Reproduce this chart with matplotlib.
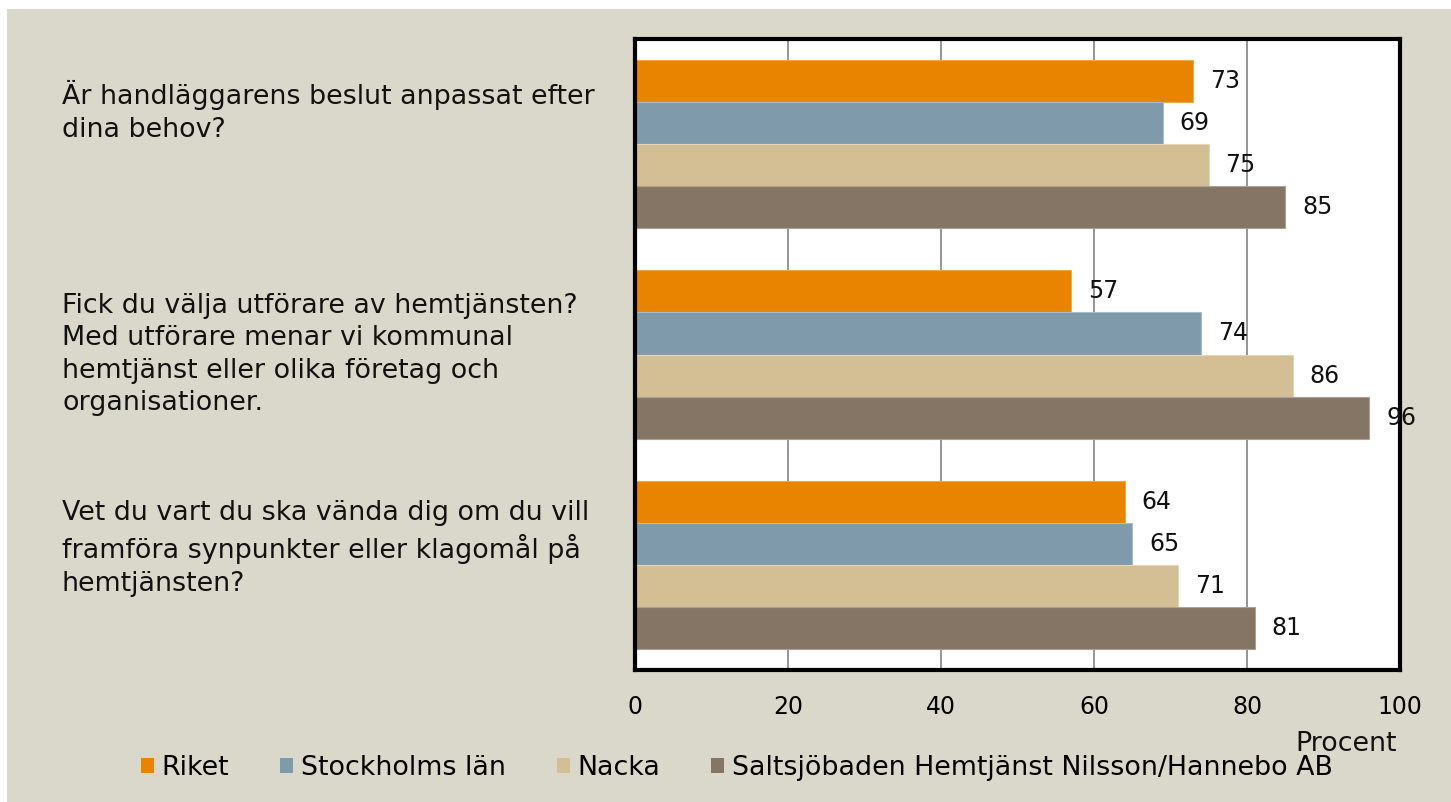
import matplotlib
matplotlib.use("Agg")
import matplotlib.pyplot as plt
from matplotlib.patches import Patch, Rectangle
import matplotlib.transforms as mtrans
import numpy as np

categories = [
    "Är handläggarens beslut anpassat efter\ndina behov?",
    "Fick du välja utförare av hemtjänsten?\nMed utförare menar vi kommunal\nhemtjänst eller olika företag och\norganisationer.",
    "Vet du vart du ska vända dig om du vill\nframföra synpunkter eller klagomål på\nhemtjänsten?",
]
series_names = ["Riket", "Stockholms län", "Nacka",
                "Saltsjöbaden Hemtjänst Nilsson/Hannebo AB"]
riket = [73, 57, 64]
stockholm = [69, 74, 65]
nacka = [75, 86, 71]
saltsjobaden = [85, 96, 81]
x_ticks = [0, 20, 40, 60, 80, 100]
x_label = "Procent"

colors = ["#E88400", "#7F9AAB", "#D4BF95", "#857564"]
edge_colors = ["#F2A848", "#A9BCC8", "#E4D6BA", "#ADA195"]
bg = "#DAD8CB"

W, H = 1451, 802
fig = plt.figure(figsize=(W / 100, H / 100), dpi=100, facecolor="white")
fig.patches.append(Rectangle((7 / W, 0), 1 - 7 / W, 1 - 9 / H,
                             transform=fig.transFigure, facecolor=bg,
                             edgecolor="none", zorder=-10))

plt.rcParams["font.family"] = "DejaVu Sans"
fs_small = 17
fs_big = 19.4

ax = fig.add_axes([635 / W, 1 - 670 / H, (1400 - 635) / W, (670 - 39) / H])
ax.set_facecolor("white")

data = [riket, stockholm, nacka, saltsjobaden]
ypos = np.arange(len(categories))
bh = 0.2
offsets = [-0.3, -0.1, 0.1, 0.3]
for vals, off, c, ec, name in zip(data, offsets, colors, edge_colors, series_names):
    bars = ax.barh(ypos + off, vals, height=bh, color=c, edgecolor=ec,
                   linewidth=0.8, label=name, zorder=2)
    for b, v in zip(bars, vals):
        ax.annotate(str(v), xy=(v, b.get_y() + b.get_height() / 2),
                    xytext=(12, 0), textcoords="offset points",
                    ha="left", va="center", fontsize=fs_small, color="#111111",
                    zorder=5, annotation_clip=False)

ax.set_xlim(0, 100)
ax.set_ylim(len(categories) - 0.5, -0.5)
ax.set_xticks(x_ticks)
ax.set_xticklabels([str(t) for t in x_ticks], fontsize=fs_small)
ax.tick_params(axis="x", length=0, pad=18)
ax.set_yticks([])
ax.xaxis.grid(True, color="#8C8C8C", linewidth=1.3, zorder=0)
ax.set_axisbelow(True)
for s in ax.spines.values():
    s.set_linewidth(3)
    s.set_color("black")
    s.set_zorder(3)

# category labels: padded to 4 lines, centred on group
blend = mtrans.blended_transform_factory(fig.transFigure, ax.transData)
for y, lab in zip(ypos, categories):
    n = lab.count("\n") + 1
    padded = lab + "\n " * (4 - n)
    ax.text(62 / W, y, padded, transform=blend,
            ha="left", va="center", fontsize=fs_big, linespacing=1.33,
            color="#111111")

fig.text(1397 / W, 1 - 744 / H, x_label, ha="right", va="center",
         fontsize=fs_big, color="#111111")

handles = [Patch(facecolor=c, edgecolor="none") for c in colors]
fig.legend(handles, series_names, loc="center left",
           bbox_to_anchor=(141 / W, 1 - 768 / H), ncol=4, frameon=False,
           fontsize=fs_big, handlelength=0.48, handleheight=0.48,
           handletextpad=0.28, columnspacing=1.9, borderaxespad=0,
           borderpad=0)

fig.savefig("out.png", dpi=100, facecolor="white")
